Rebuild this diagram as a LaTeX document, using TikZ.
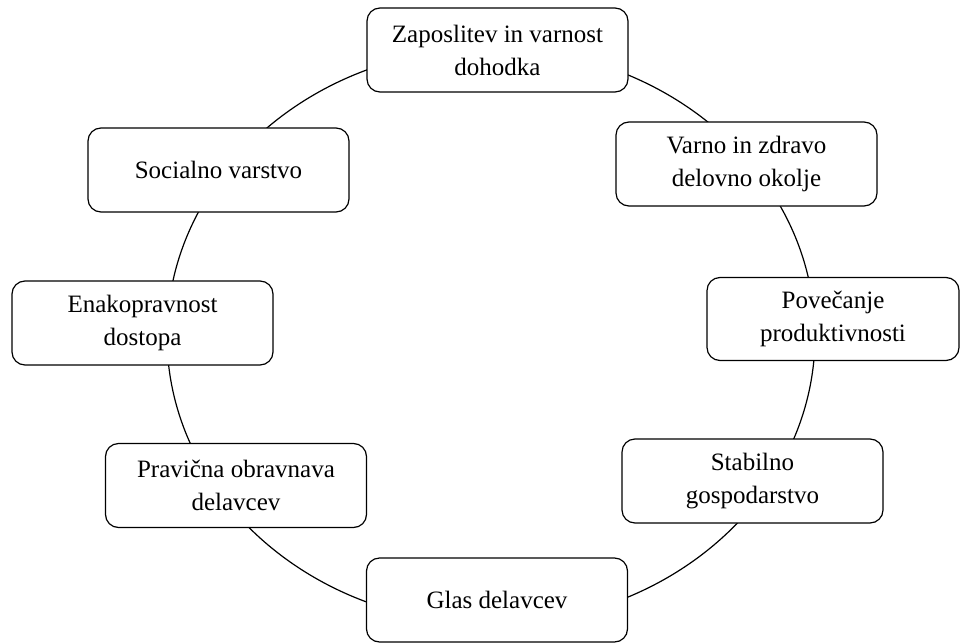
\documentclass[tikz,border=0pt]{standalone}
\usepackage{fontspec}
\setmainfont{Liberation Serif}
\begin{document}
\begin{tikzpicture}[x=1pt,y=1pt,
  box/.style={draw=black, fill=white, line width=1.2pt, rounded corners=13pt,
    minimum width=261pt, minimum height=84pt, align=center, inner sep=0pt,
    font=\fontsize{25}{33}\selectfont},
  ring/.style={draw=black, line width=1.2pt}]
\useasboundingbox (0,0) rectangle (960,-642);
\coordinate (c) at (491,-336);
\draw[ring] (c) ellipse [x radius=324, y radius=288];
\node[box] (z) at (497.5,-50) {Zaposlitev in varnost\\dohodka};
\node[box] (v) at (746.5,-164) {Varno in zdravo\\delovno okolje};
\node[box, minimum width=252pt, minimum height=83pt] (p) at (833,-319) {Povečanje\\produktivnosti};
\node[box] (s) at (752.5,-481) {Stabilno\\gospodarstvo};
\node[box] (g) at (497,-600) {Glas delavcev};
\node[box] (pr) at (236,-485.5) {Pravična obravnava\\delavcev};
\node[box] (e) at (142.5,-323) {Enakopravnost\\dostopa};
\node[box] (so) at (218.5,-170) {Socialno varstvo};
\end{tikzpicture}
\end{document}
